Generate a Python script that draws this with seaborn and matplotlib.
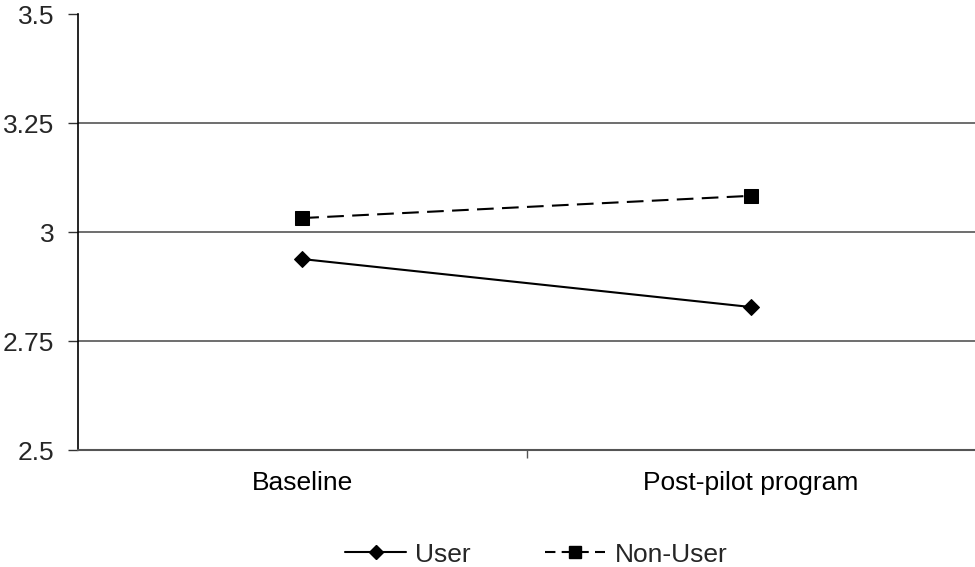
import matplotlib
matplotlib.use("Agg")
import matplotlib.pyplot as plt
import seaborn as sns
import pandas as pd
from matplotlib.lines import Line2D
from matplotlib.ticker import FixedLocator

categories = ["Baseline", "Post-pilot program"]
user_values = [2.938, 2.828]
nonuser_values = [3.032, 3.083]
series_names = ["User", "Non-User"]
y_ticks = [2.5, 2.75, 3.0, 3.25, 3.5]
y_tick_labels = ["2.5", "2.75", "3", "3.25", "3.5"]

df = pd.DataFrame({
    "time": categories * 2,
    "value": user_values + nonuser_values,
    "group": [series_names[0]] * 2 + [series_names[1]] * 2,
})
df["x"] = df["time"].map({c: i for i, c in enumerate(categories)})

sns.set_style("white")
plt.rcParams["font.family"] = ["Liberation Sans", "DejaVu Sans"]

FS = 19

fig = plt.figure(figsize=(9.75, 5.67), dpi=100)
ax = fig.add_axes([0.08, 0.2063, 0.92, 0.7690])

sns.lineplot(
    data=df, x="x", y="value", style="group",
    markers={"User": "D", "Non-User": "s"},
    dashes={"User": "", "Non-User": (8, 4)},
    color="black", linewidth=1.5, markersize=9, legend=False, ax=ax,
)
for ln in ax.lines:
    if ln.get_marker() == "s":
        ln.set_markersize(10)
    else:
        ln.set_markersize(8)
    ln.set_markeredgecolor("black")
    ln.set_markerfacecolor("black")

ax.set_xlim(-0.5, 1.5)
ax.set_ylim(2.5, 3.5)
ax.set_yticks(y_ticks)
ax.set_yticklabels(y_tick_labels)
ax.set_xticks(range(len(categories)))
ax.set_xticklabels(categories)
ax.xaxis.set_minor_locator(FixedLocator([0.5]))
ax.tick_params(axis="x", which="major", length=0, labelsize=FS, pad=15, colors="black")
ax.tick_params(axis="x", which="minor", length=6, width=1, color="#555555", direction="out", bottom=True)
ax.tick_params(axis="y", length=7, width=1, color="#333333", direction="out", labelsize=FS, pad=10, left=True)
ax.set_xlabel("")
ax.set_ylabel("")

for y in y_ticks[1:-1]:
    ax.axhline(y, color="#555555", linewidth=1.2, zorder=0)

for s in ["top", "right"]:
    ax.spines[s].set_visible(False)
ax.spines["left"].set_color("black")
ax.spines["left"].set_linewidth(1.2)
ax.spines["bottom"].set_color("#555555")
ax.spines["bottom"].set_linewidth(1.5)

handles = [
    Line2D([], [], color="black", linewidth=1.5, marker="D", markersize=7),
    Line2D([], [], color="black", linewidth=1.5, marker="s", markersize=9, dashes=(5, 3)),
]
fig.legend(handles, series_names, loc="center", bbox_to_anchor=(0.55, 0.022),
           ncol=2, frameon=False, fontsize=FS, handlelength=2.3,
           columnspacing=2.8, handletextpad=0.35)

fig.savefig("out.png", dpi=100)
